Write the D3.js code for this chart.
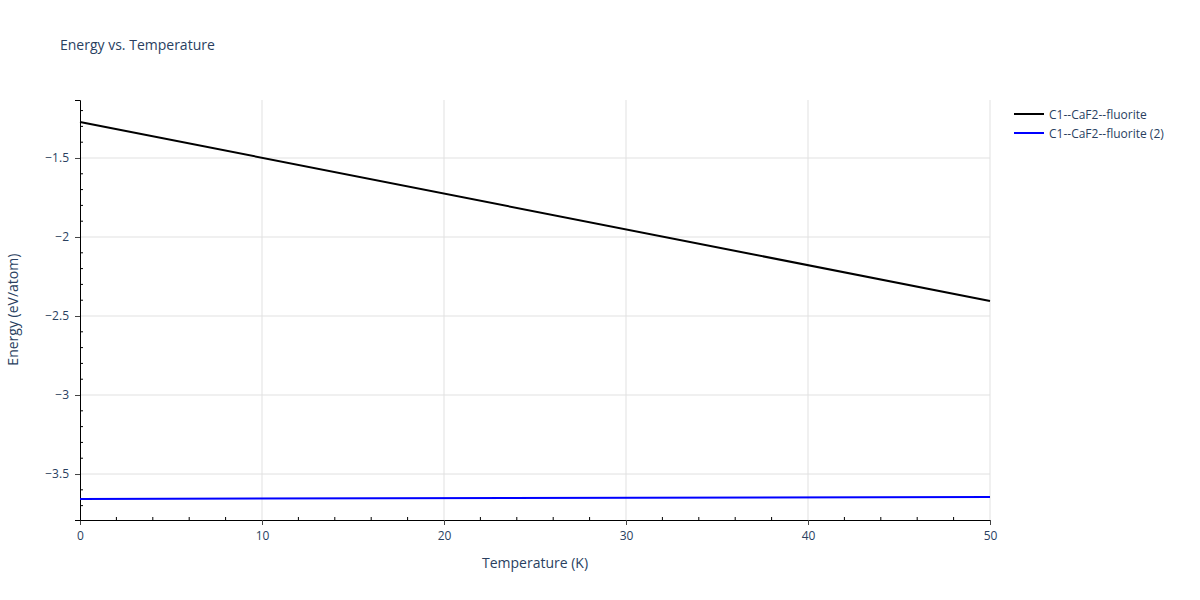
<!DOCTYPE html>
<html><head><meta charset="utf-8">
<script src="https://cdn.jsdelivr.net/npm/d3@7"></script>
<style>body{margin:0;background:#fff;font-family:"Open Sans",sans-serif;}</style>
</head><body><div id="chart"></div>
<script>
const temperatures = [0, 50];
const seriesNames = ["C1--CaF2--fluorite", "C1--CaF2--fluorite (2)"];
const seriesColors = ["#000000", "#0000ff"];
const energyFluorite = [-1.272, -2.405];
const energyFluorite2 = [-3.658, -3.646];
const xTicks = [0, 10, 20, 30, 40, 50];
const yTicks = [-3.5, -3, -2.5, -2, -1.5];

const width = 1200, height = 600;
const margin = {left: 80, right: 210, top: 100, bottom: 80};
const txt = "#2a3f5f";

const svg = d3.select("#chart").append("svg").attr("width", width).attr("height", height);

const x = d3.scaleLinear().domain([0, 50]).range([margin.left, width - margin.right]);
const y = d3.scaleLinear().domain([-3.791, -1.133]).range([height - margin.bottom, margin.top]);

// grid
svg.append("g").selectAll("line").data(xTicks.slice(1)).join("line")
    .attr("x1", d => x(d)).attr("x2", d => x(d))
    .attr("y1", margin.top).attr("y2", height - margin.bottom)
    .attr("stroke", "#e1e1e1");
svg.append("g").selectAll("line").data(yTicks).join("line")
    .attr("x1", margin.left).attr("x2", width - margin.right)
    .attr("y1", d => y(d)).attr("y2", d => y(d))
    .attr("stroke", "#e1e1e1");

// minor ticks (inside)
const xMinor = d3.range(0, 50.01, 2).filter(d => d % 10 !== 0);
svg.append("g").selectAll("line").data(xMinor).join("line")
    .attr("x1", d => x(d)).attr("x2", d => x(d))
    .attr("y1", height - margin.bottom).attr("y2", height - margin.bottom - 3)
    .attr("stroke", "#000");
const yMinor = d3.range(-37, -11).map(d => d / 10).filter(d => Math.abs(d * 2 - Math.round(d * 2)) > 1e-6);
svg.append("g").selectAll("line").data(yMinor).join("line")
    .attr("x1", margin.left).attr("x2", margin.left + 3)
    .attr("y1", d => y(d)).attr("y2", d => y(d))
    .attr("stroke", "#000");

// axes
const xAxis = svg.append("g").attr("transform", `translate(0,${height - margin.bottom})`)
    .call(d3.axisBottom(x).tickValues(xTicks).tickSize(5).tickPadding(6));
const yAxis = svg.append("g").attr("transform", `translate(${margin.left},0)`)
    .call(d3.axisLeft(y).tickValues(yTicks).tickSize(5).tickPadding(6).tickFormat(d => d3.format("")(d).replace("-", "\u2212")));
[xAxis, yAxis].forEach(a => {
    a.select(".domain").attr("stroke", "#000").attr("stroke-width", 1);
    a.selectAll(".tick line").attr("stroke", "#444");
    a.selectAll("text").attr("fill", txt).attr("font-size", 12).attr("font-family", "Open Sans, sans-serif");
});

// lines
const series = [energyFluorite, energyFluorite2];
const line = d3.line().x((d, i) => x(temperatures[i])).y(d => y(d));
series.forEach((s, i) => {
    svg.append("path").datum(s).attr("d", line)
        .attr("fill", "none").attr("stroke", seriesColors[i]).attr("stroke-width", 2);
});

// titles
svg.append("text").attr("x", 60).attr("y", 50).text("Energy vs. Temperature")
    .attr("fill", txt).attr("font-size", 14);
svg.append("text").attr("x", x(25)).attr("y", 568).attr("text-anchor", "middle")
    .text("Temperature (K)").attr("fill", txt).attr("font-size", 14);
svg.append("text").attr("transform", `translate(18,${y(-2.46)}) rotate(-90)`).attr("text-anchor", "middle")
    .text("Energy (eV/atom)").attr("fill", txt).attr("font-size", 14);

// legend
const lg = svg.append("g").attr("transform", "translate(1014,114)");
seriesNames.forEach((n, i) => {
    const g = lg.append("g").attr("transform", `translate(0,${i * 19})`);
    g.append("line").attr("x1", 0).attr("x2", 30).attr("stroke", seriesColors[i]).attr("stroke-width", 2);
    g.append("text").attr("x", 35).attr("y", 4.5).text(n).attr("fill", txt).attr("font-size", 12);
});
</script></body></html>
